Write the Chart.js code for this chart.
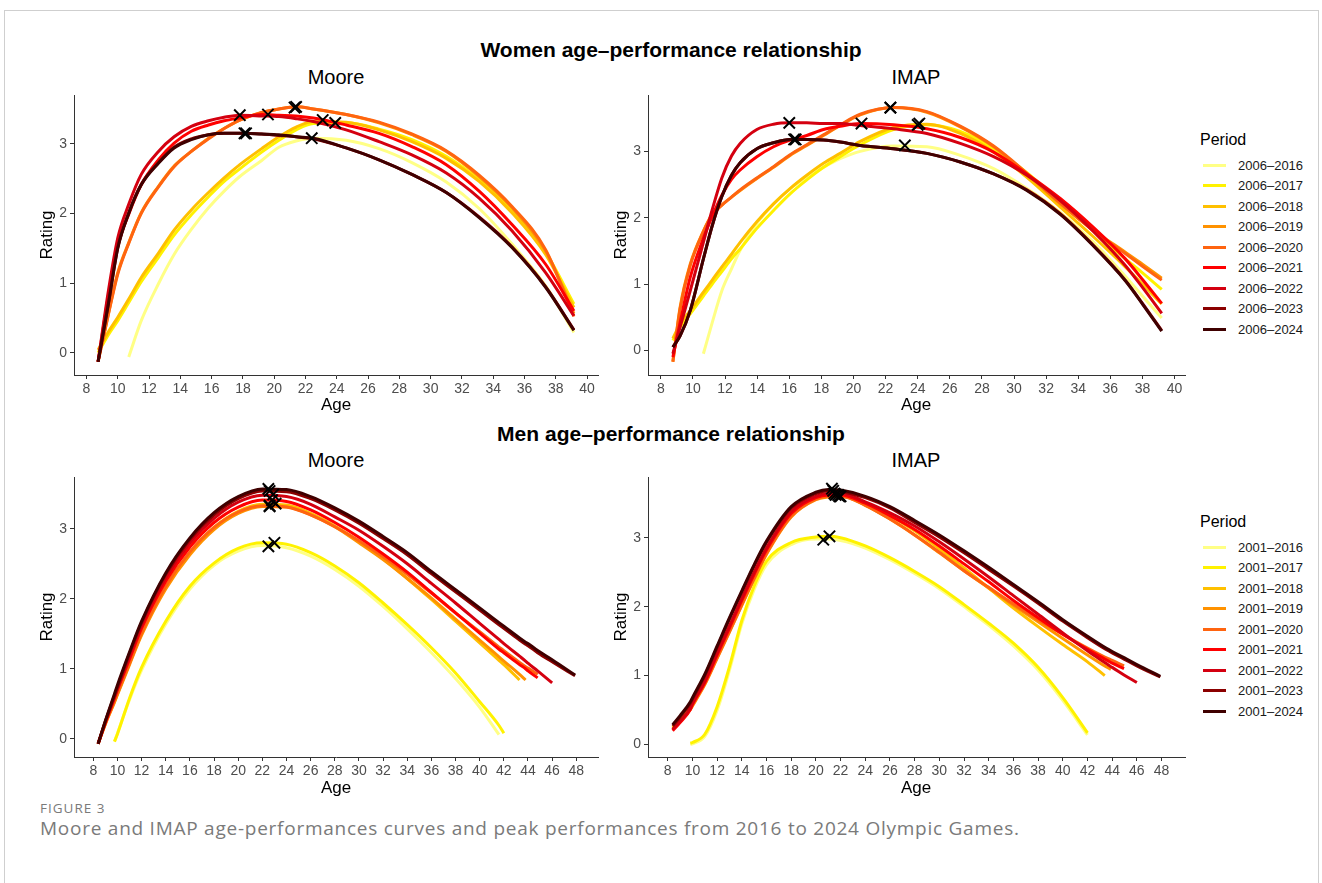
<!DOCTYPE html>
<html>
<head>
<meta charset="utf-8">
<script src="https://cdn.jsdelivr.net/npm/chart.js@4.4.1/dist/chart.umd.min.js"></script>
<style>
  body { margin: 0; background: #fff; font-family: "Liberation Sans", Arial, sans-serif; }
  #page { position: relative; width: 1322px; height: 883px; overflow: hidden; }
  .card { position: absolute; left: 4px; top: 10px; width: 1313px; height: 900px; border: 1px solid #cfcfcf; }
  canvas { position: absolute; }
  .txt { position: absolute; white-space: nowrap; color: #000; }
  .title { font-weight: bold; font-size: 21px; transform: translate(-50%, -50%); }
  .panel { font-size: 20px; transform: translate(-50%, -50%); }
  .axis { font-size: 17px; transform: translate(-50%, -50%); }
  .rot { font-size: 17px; transform: translate(-50%, -50%) rotate(-90deg); }
  .legend { position: absolute; left: 1200px; font-size: 13px; color: #1a1a1a; }
  .legend .head { font-size: 16px; color: #000; height: 24px; margin-top: 2px; }
  .legend .item { height: 20.5px; display: flex; align-items: center; }
  .legend .sw { width: 23px; height: 3px; margin: 0 12px 0 3px; }
  .fig { position: absolute; left: 40px; font-family: "Open Sans", sans-serif; color: #7a7a7a; }
</style>
</head>
<body>
<div id="page">
  <div class="card"></div>
  <div class="txt title" style="left:671px; top:50px;">Women age–performance relationship</div>
  <div class="txt title" style="left:671px; top:434px;">Men age–performance relationship</div>
  <div class="txt panel" style="left:336px; top:77px;">Moore</div>
  <div class="txt panel" style="left:916px; top:77px;">IMAP</div>
  <div class="txt panel" style="left:336px; top:460px;">Moore</div>
  <div class="txt panel" style="left:916px; top:460px;">IMAP</div>

  <canvas id="womenMoore" width="596" height="322" style="left:14px; top:83px;"></canvas>
  <canvas id="womenImap" width="609" height="322" style="left:588px; top:83px;"></canvas>
  <canvas id="menMoore" width="596" height="322" style="left:14px; top:465px;"></canvas>
  <canvas id="menImap" width="609" height="322" style="left:588px; top:465px;"></canvas>

  <div class="txt axis" style="left:336px; top:405px;">Age</div>
  <div class="txt axis" style="left:916px; top:405px;">Age</div>
  <div class="txt axis" style="left:336px; top:788px;">Age</div>
  <div class="txt axis" style="left:916px; top:788px;">Age</div>
  <div class="txt rot" style="left:47px; top:235px;">Rating</div>
  <div class="txt rot" style="left:621px; top:235px;">Rating</div>
  <div class="txt rot" style="left:47px; top:617px;">Rating</div>
  <div class="txt rot" style="left:621px; top:617px;">Rating</div>

  <div class="legend" id="womenLegend" style="top:129px;"></div>
  <div class="legend" id="menLegend" style="top:511px;"></div>

  <div class="fig" style="top:799px; font-size:13.5px; letter-spacing:1px;">FIGURE 3</div>
  <div class="fig" style="top:815px; font-size:19px; letter-spacing:0.75px;">Moore and IMAP age-performances curves and peak performances from 2016 to 2024 Olympic Games.</div>
</div>

<script>
// periods and colours
const womenPeriods = ["2006–2016", "2006–2017", "2006–2018", "2006–2019", "2006–2020", "2006–2021", "2006–2022", "2006–2023", "2006–2024"];
const menPeriods = ["2001–2016", "2001–2017", "2001–2018", "2001–2019", "2001–2020", "2001–2021", "2001–2022", "2001–2023", "2001–2024"];
const periodColors = ["#ffff85", "#fff200", "#ffc000", "#ff9200", "#ff6410", "#ff0000", "#d40010", "#8b0000", "#3f0000"];

const womenAgeTicks = [8, 10, 12, 14, 16, 18, 20, 22, 24, 26, 28, 30, 32, 34, 36, 38, 40];
const menAgeTicks = [8, 10, 12, 14, 16, 18, 20, 22, 24, 26, 28, 30, 32, 34, 36, 38, 40, 42, 44, 46, 48];
const ratingTicks = [0, 1, 2, 3];

// Women - Moore
const womenMooreAges = [8.74, 9.4, 10.0, 10.7, 11.5, 12.6, 13.6, 14.7, 15.8, 16.8, 17.8, 19.2, 20.3, 21.4, 22.5, 24.6, 26.7, 28.8, 31.0, 33.1, 35.2, 37.35, 39.16];
const womenMooreRatings = [
    [null, null, null, -0.06, 0.46, 0.99, 1.41, 1.77, 2.08, 2.32, 2.53, 2.76, 2.95, 3.04, 3.08, 3.05, 2.93, 2.73, 2.45, 2.07, 1.56, 0.96, 0.29],
    [0.00, 0.26, 0.46, 0.72, 1.02, 1.37, 1.69, 1.98, 2.24, 2.46, 2.64, 2.88, 3.05, 3.20, 3.29, 3.30, 3.21, 3.06, 2.82, 2.48, 2.03, 1.44, 0.70],
    [0.04, 0.30, 0.51, 0.77, 1.08, 1.43, 1.76, 2.05, 2.30, 2.51, 2.70, 2.93, 3.10, 3.24, 3.32, 3.31, 3.20, 3.03, 2.79, 2.46, 2.01, 1.41, 0.65],
    [-0.13, 0.56, 1.15, 1.58, 2.01, 2.39, 2.68, 2.89, 3.08, 3.22, 3.34, 3.45, 3.50, 3.53, 3.50, 3.42, 3.30, 3.13, 2.89, 2.53, 2.08, 1.46, 0.56],
    [-0.13, 0.55, 1.13, 1.57, 2.00, 2.38, 2.67, 2.89, 3.07, 3.22, 3.34, 3.45, 3.50, 3.53, 3.50, 3.42, 3.31, 3.14, 2.90, 2.55, 2.10, 1.48, 0.52],
    [-0.13, 0.82, 1.53, 1.99, 2.41, 2.77, 3.01, 3.18, 3.27, 3.33, 3.37, 3.42, 3.41, 3.40, 3.37, 3.27, 3.15, 2.96, 2.70, 2.32, 1.84, 1.27, 0.60],
    [-0.13, 0.89, 1.65, 2.13, 2.56, 2.89, 3.10, 3.25, 3.33, 3.38, 3.41, 3.40, 3.39, 3.36, 3.32, 3.20, 3.03, 2.84, 2.58, 2.22, 1.75, 1.15, 0.53],
    [-0.13, 0.71, 1.51, 2.01, 2.42, 2.73, 2.95, 3.07, 3.13, 3.15, 3.15, 3.14, 3.12, 3.10, 3.07, 2.94, 2.77, 2.56, 2.30, 1.95, 1.52, 0.95, 0.33],
    [-0.13, 0.70, 1.50, 2.00, 2.41, 2.72, 2.94, 3.06, 3.13, 3.15, 3.15, 3.14, 3.13, 3.10, 3.08, 2.94, 2.77, 2.56, 2.30, 1.94, 1.51, 0.94, 0.32],
];
const womenMoorePeakAges = [22.4, 23.9, 23.1, 21.3, 21.4, 19.6, 17.8, 18.1, 18.2];
const womenMoorePeakRatings = [3.08, 3.30, 3.34, 3.52, 3.53, 3.42, 3.41, 3.15, 3.15];

// Women - IMAP
const womenImapAges = [8.75, 9.2, 9.83, 10.65, 11.2, 11.8, 12.4, 12.94, 13.98, 15.02, 16.05, 17.09, 18.13, 19.17, 20.42, 22.49, 24.57, 26.65, 28.73, 30.8, 32.88, 34.96, 36.93, 38.0, 39.2];
const womenImapRatings = [
    [null, null, null, -0.05, 0.42, 0.90, 1.23, 1.51, 1.91, 2.21, 2.44, 2.61, 2.76, 2.89, 3.00, 3.08, 3.07, 2.94, 2.74, 2.44, 2.08, 1.63, 1.12, 0.82, 0.49],
    [0.15, 0.35, 0.55, 0.82, 1.00, 1.19, 1.38, 1.53, 1.84, 2.11, 2.36, 2.57, 2.76, 2.92, 3.10, 3.33, 3.40, 3.30, 3.04, 2.68, 2.24, 1.80, 1.38, 1.17, 0.92],
    [0.18, 0.40, 0.60, 0.88, 1.06, 1.26, 1.45, 1.63, 1.94, 2.21, 2.44, 2.64, 2.82, 2.97, 3.15, 3.36, 3.41, 3.27, 2.99, 2.61, 2.16, 1.71, 1.26, 1.00, 0.70],
    [-0.17, 0.65, 1.30, 1.80, 2.05, 2.19, 2.31, 2.41, 2.59, 2.76, 2.94, 3.09, 3.24, 3.39, 3.55, 3.66, 3.59, 3.37, 3.07, 2.66, 2.21, 1.81, 1.48, 1.30, 1.09],
    [-0.17, 0.63, 1.28, 1.79, 2.04, 2.19, 2.31, 2.42, 2.60, 2.77, 2.95, 3.10, 3.25, 3.40, 3.56, 3.66, 3.60, 3.38, 3.08, 2.67, 2.22, 1.80, 1.46, 1.27, 1.06],
    [-0.10, 0.42, 1.10, 1.69, 2.02, 2.34, 2.58, 2.72, 2.92, 3.07, 3.17, 3.24, 3.33, 3.38, 3.42, 3.40, 3.34, 3.21, 2.99, 2.66, 2.29, 1.85, 1.38, 1.07, 0.71],
    [-0.05, 0.35, 0.90, 1.63, 2.12, 2.60, 2.93, 3.12, 3.33, 3.41, 3.43, 3.43, 3.42, 3.42, 3.39, 3.34, 3.27, 3.12, 2.92, 2.64, 2.26, 1.79, 1.28, 0.95, 0.56],
    [0.05, 0.22, 0.60, 1.38, 1.88, 2.32, 2.64, 2.83, 3.04, 3.13, 3.18, 3.18, 3.17, 3.14, 3.09, 3.04, 2.97, 2.84, 2.66, 2.42, 2.06, 1.58, 1.06, 0.71, 0.30],
    [0.05, 0.22, 0.60, 1.38, 1.88, 2.32, 2.64, 2.83, 3.04, 3.13, 3.18, 3.18, 3.17, 3.14, 3.09, 3.04, 2.97, 2.84, 2.66, 2.41, 2.05, 1.57, 1.05, 0.70, 0.29],
];
const womenImapPeakAges = [23.2, 24.0, 24.1, 22.3, 22.3, 20.5, 16.0, 16.3, 16.4];
const womenImapPeakRatings = [3.09, 3.40, 3.42, 3.66, 3.66, 3.42, 3.43, 3.18, 3.18];

// Men - Moore
const menMooreAges = [8.4, 9, 9.75, 10, 11, 12, 14, 16, 18, 20, 22, 24, 26, 28, 30, 32, 34, 36, 38, 40, 41.6, 42, 43.3, 43.8, 44, 44.8, 46, 47.9];
const menMooreRatings = [
    [null, null, -0.04, 0.08, 0.56, 0.98, 1.64, 2.14, 2.48, 2.68, 2.76, 2.73, 2.61, 2.42, 2.18, 1.89, 1.57, 1.23, 0.86, 0.45, 0.06, null, null, null, null, null, null, null],
    [null, null, -0.04, 0.07, 0.58, 1.02, 1.68, 2.18, 2.51, 2.72, 2.80, 2.78, 2.66, 2.47, 2.23, 1.94, 1.63, 1.30, 0.94, 0.53, 0.19, 0.08, null, null, null, null, null, null],
    [-0.07, 0.22, 0.53, 0.64, 1.08, 1.50, 2.17, 2.66, 3.02, 3.25, 3.35, 3.34, 3.22, 3.04, 2.82, 2.57, 2.29, 1.99, 1.68, 1.37, 1.12, 1.06, 0.84, null, null, null, null, null],
    [-0.07, 0.21, 0.52, 0.63, 1.06, 1.48, 2.14, 2.63, 2.99, 3.22, 3.32, 3.31, 3.20, 3.03, 2.80, 2.56, 2.29, 2.01, 1.71, 1.41, 1.17, 1.11, 0.92, 0.84, null, null, null, null],
    [-0.07, 0.22, 0.54, 0.65, 1.08, 1.51, 2.18, 2.67, 3.02, 3.24, 3.33, 3.31, 3.20, 3.03, 2.83, 2.60, 2.35, 2.08, 1.80, 1.53, 1.31, 1.26, 1.09, 1.03, 1.01, 0.92, null, null],
    [-0.07, 0.23, 0.58, 0.70, 1.14, 1.58, 2.25, 2.74, 3.09, 3.31, 3.41, 3.39, 3.27, 3.09, 2.88, 2.64, 2.38, 2.09, 1.80, 1.51, 1.28, 1.23, 1.06, 1.00, 0.97, 0.87, null, null],
    [-0.07, 0.24, 0.60, 0.72, 1.18, 1.62, 2.30, 2.80, 3.15, 3.38, 3.48, 3.46, 3.35, 3.17, 2.98, 2.75, 2.50, 2.22, 1.94, 1.65, 1.42, 1.36, 1.18, 1.11, 1.08, 0.97, 0.80, null],
    [-0.07, 0.25, 0.62, 0.74, 1.22, 1.66, 2.35, 2.85, 3.20, 3.43, 3.54, 3.53, 3.43, 3.27, 3.08, 2.86, 2.63, 2.36, 2.10, 1.84, 1.63, 1.58, 1.41, 1.35, 1.33, 1.23, 1.10, 0.90],
    [-0.07, 0.26, 0.64, 0.77, 1.24, 1.68, 2.37, 2.87, 3.23, 3.46, 3.57, 3.56, 3.46, 3.30, 3.11, 2.89, 2.66, 2.39, 2.13, 1.87, 1.66, 1.61, 1.44, 1.38, 1.36, 1.26, 1.13, 0.91],
];
const menMoorePeakAges = [22.5, 23.0, 23.1, 22.6, 22.6, 22.8, 22.9, 22.6, 22.5];
const menMoorePeakRatings = [2.75, 2.80, 3.36, 3.32, 3.33, 3.41, 3.49, 3.54, 3.57];

// Men - IMAP
const menImapAges = [8.4, 9, 9.83, 10, 11, 12, 13, 14, 15, 16, 18, 20, 21, 22, 24, 26, 28, 30, 32, 34, 36, 38, 40, 42, 43.4, 43.9, 44, 44.96, 46, 47.9];
const menImapRatings = [
    [null, null, 0.00, 0.01, 0.12, 0.50, 1.08, 1.75, 2.25, 2.61, 2.90, 2.98, 2.98, 2.96, 2.85, 2.68, 2.48, 2.26, 2.00, 1.73, 1.43, 1.08, 0.64, 0.14, null, null, null, null, null, null],
    [null, null, 0.02, 0.03, 0.15, 0.55, 1.13, 1.80, 2.30, 2.66, 2.93, 3.01, 3.02, 3.00, 2.88, 2.71, 2.51, 2.29, 2.03, 1.76, 1.47, 1.12, 0.68, 0.17, null, null, null, null, null, null],
    [0.25, 0.36, 0.53, 0.58, 0.90, 1.28, 1.66, 2.05, 2.43, 2.78, 3.32, 3.57, 3.61, 3.62, 3.50, 3.32, 3.10, 2.84, 2.56, 2.27, 1.98, 1.71, 1.45, 1.20, 1.00, null, null, null, null, null],
    [0.23, 0.34, 0.51, 0.56, 0.87, 1.25, 1.63, 2.02, 2.40, 2.76, 3.30, 3.55, 3.59, 3.60, 3.47, 3.27, 3.04, 2.78, 2.52, 2.27, 2.02, 1.78, 1.54, 1.30, 1.14, 1.09, null, null, null, null],
    [0.22, 0.33, 0.51, 0.57, 0.88, 1.26, 1.64, 2.03, 2.41, 2.77, 3.31, 3.56, 3.60, 3.60, 3.47, 3.27, 3.04, 2.79, 2.52, 2.28, 2.04, 1.81, 1.60, 1.40, 1.27, 1.23, 1.22, 1.14, null, null],
    [0.20, 0.32, 0.51, 0.58, 0.90, 1.30, 1.69, 2.09, 2.47, 2.82, 3.35, 3.58, 3.62, 3.62, 3.50, 3.32, 3.12, 2.88, 2.62, 2.36, 2.09, 1.84, 1.60, 1.38, 1.24, 1.19, 1.18, 1.10, null, null],
    [0.22, 0.34, 0.53, 0.60, 0.92, 1.33, 1.72, 2.12, 2.50, 2.85, 3.38, 3.60, 3.64, 3.64, 3.52, 3.36, 3.17, 2.94, 2.69, 2.43, 2.16, 1.89, 1.62, 1.36, 1.19, 1.13, 1.12, 1.01, 0.90, null],
    [0.27, 0.40, 0.60, 0.66, 1.00, 1.41, 1.82, 2.21, 2.59, 2.93, 3.43, 3.64, 3.68, 3.67, 3.58, 3.43, 3.22, 3.01, 2.78, 2.54, 2.30, 2.05, 1.79, 1.55, 1.39, 1.34, 1.33, 1.24, 1.14, 0.98],
    [0.29, 0.42, 0.62, 0.68, 1.02, 1.43, 1.84, 2.23, 2.61, 2.95, 3.45, 3.66, 3.70, 3.69, 3.60, 3.45, 3.25, 3.04, 2.81, 2.57, 2.32, 2.07, 1.81, 1.57, 1.41, 1.36, 1.35, 1.26, 1.16, 0.99],
];
const menImapPeakAges = [20.6, 21.1, 21.8, 22.0, 21.9, 21.6, 21.5, 21.4, 21.3];
const menImapPeakRatings = [2.97, 3.02, 3.62, 3.60, 3.60, 3.62, 3.64, 3.68, 3.71];

Chart.defaults.font.family = '"Liberation Sans", Arial, sans-serif';

function makePanel(id, ages, ratings, peakAges, peakRatings, xMin, xMax, yMin, yMax, xTicks) {
    const lines = ratings.map((row, i) => ({
        label: String(i),
        data: ages.map((a, j) => ({ x: a, y: row[j] })).filter((p) => p.y !== null),
        borderColor: periodColors[i],
        borderWidth: 3,
        pointRadius: 0,
        cubicInterpolationMode: "monotone",
        order: 9 - i,
    }));
    const peaks = {
        label: "peaks",
        data: peakAges.map((a, i) => ({ x: a, y: peakRatings[i] })),
        showLine: false,
        pointStyle: "crossRot",
        pointRadius: 8,
        pointBorderWidth: 2,
        pointBorderColor: "#000",
        pointBackgroundColor: "#000",
        order: 0,
    };
    new Chart(document.getElementById(id), {
        type: "line",
        data: { datasets: [peaks, ...lines] },
        options: {
            responsive: false,
            animation: false,
            events: [],
            layout: { padding: { top: 12, right: 12, left: 0, bottom: 0 } },
            plugins: { legend: { display: false }, tooltip: { enabled: false } },
            scales: {
                x: {
                    type: "linear",
                    min: xMin,
                    max: xMax,
                    afterBuildTicks: (s) => { s.ticks = xTicks.map((v) => ({ value: v })); },
                    afterFit: (s) => { s.height = 30; },
                    grid: { drawOnChartArea: false, tickLength: 4, color: "#333" },
                    border: { color: "#333", width: 1 },
                    ticks: { color: "#4d4d4d", font: { size: 14 }, padding: 2, maxRotation: 0, autoSkip: false },
                },
                y: {
                    min: yMin,
                    max: yMax,
                    afterBuildTicks: (s) => { s.ticks = ratingTicks.map((v) => ({ value: v })); },
                    afterFit: (s) => { s.width = 60; },
                    grid: { drawOnChartArea: false, tickLength: 4, color: "#333" },
                    border: { color: "#333", width: 1 },
                    ticks: { color: "#4d4d4d", font: { size: 14 }, padding: 3 },
                },
            },
        },
    });
}

makePanel("womenMoore", womenMooreAges, womenMooreRatings, womenMoorePeakAges, womenMoorePeakRatings, 7.2, 40.7, -0.32, 3.70, womenAgeTicks);
makePanel("womenImap", womenImapAges, womenImapRatings, womenImapPeakAges, womenImapPeakRatings, 7.2, 40.65, -0.37, 3.85, womenAgeTicks);
makePanel("menMoore", menMooreAges, menMooreRatings, menMoorePeakAges, menMoorePeakRatings, 6.4, 49.8, -0.26, 3.74, menAgeTicks);
makePanel("menImap", menImapAges, menImapRatings, menImapPeakAges, menImapPeakRatings, 6.4, 49.9, -0.18, 3.88, menAgeTicks);

function fillLegend(id, periods) {
    const box = document.getElementById(id);
    let html = '<div class="head">Period</div>';
    periods.forEach((p, i) => {
        html += '<div class="item"><span class="sw" style="background:' + periodColors[i] + '"></span>' + p + "</div>";
    });
    box.innerHTML = html;
}
fillLegend("womenLegend", womenPeriods);
fillLegend("menLegend", menPeriods);
</script>
</body>
</html>
